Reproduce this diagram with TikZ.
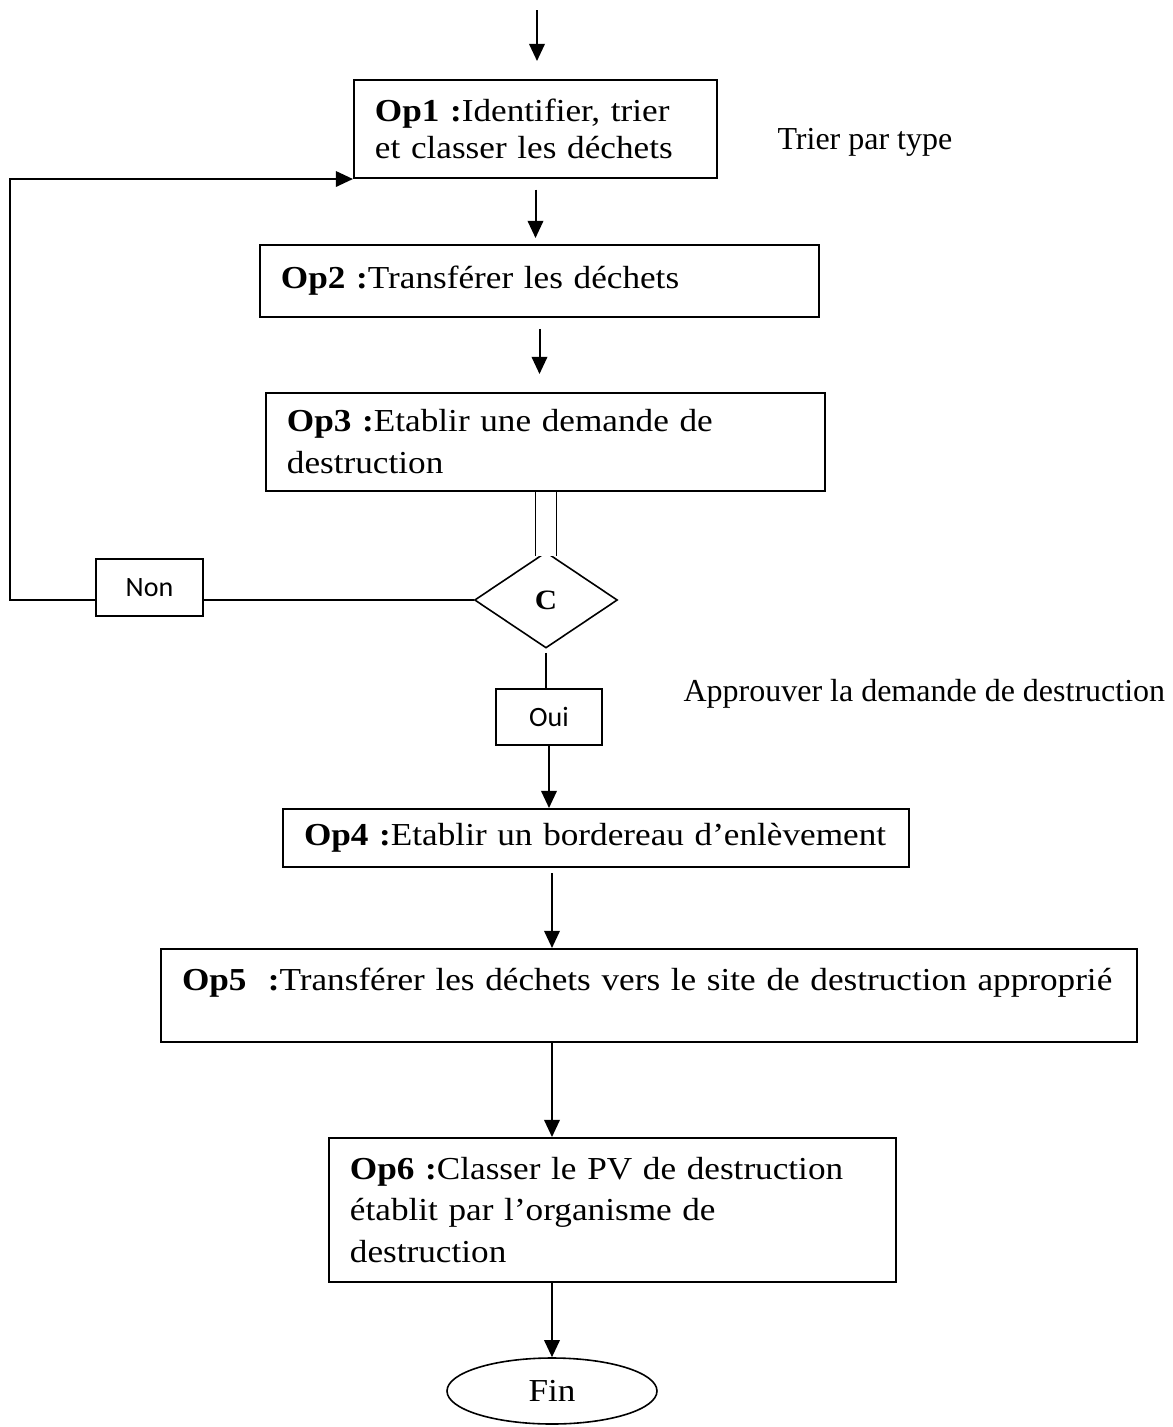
\documentclass[tikz,border=0pt]{standalone}
\usepackage{fontspec}
\setmainfont{Liberation Serif}
\newfontfamily\boxfont[FakeStretch=1.1]{Liberation Serif}
\newfontfamily\yesnofont{Carlito}
\usetikzlibrary{arrows.meta, shapes.geometric}

\begin{document}
\begin{tikzpicture}[x=0.375pt, y=-0.375pt,
        opbox/.style={draw, line width=0.75pt, align=left, inner xsep=7.875pt, inner ysep=2pt, font=\boxfont\fontsize{12}{15.5}\selectfont},
        answer/.style={draw, line width=0.6pt, inner sep=0pt, font=\yesnofont\fontsize{10.5}{12}\selectfont},
        note/.style={inner sep=0pt, font=\fontsize{12}{14}\selectfont},
        arr/.style={-{Triangle[length=6.4pt,width=5.8pt]}, line width=0.75pt}]
        \useasboundingbox (0,0) rectangle (1173,1427);

        \node[opbox, minimum width=136.1pt, minimum height=36.75pt, text width=120.4pt, font=\boxfont\fontsize{12}{13.8}\selectfont] (op1) at (535.5,129) {\textbf{Op1 :}Identifier, trier\\et classer les déchets};
        \node[opbox, minimum width=209.6pt, minimum height=27pt, text width=193.9pt] (op2) at (539.5,281) {\textbf{Op2 :}Transférer les déchets};
        \node[opbox, minimum width=209.6pt, minimum height=36.75pt, text width=193.9pt, font=\boxfont\fontsize{12}{15.75}\selectfont] (op3) at (545.5,442) {\textbf{Op3 :}Etablir une demande de\\destruction};
        \node[diamond, draw, line width=0.6pt, inner sep=0pt, minimum width=53.6pt, minimum height=36pt, font=\boxfont\bfseries\fontsize{10.5}{10.5}\selectfont] (c) at (546,600) {C};
        \node[answer, minimum width=40.1pt, minimum height=21.4pt] (non) at (149.5,587.5) {Non};
        \node[answer, minimum width=39.75pt, minimum height=21pt] (oui) at (549,717) {Oui};
        \node[opbox, minimum width=234.75pt, minimum height=21.75pt, text width=219pt] (op4) at (596,838) {\textbf{Op4 :}Etablir un bordereau d’enlèvement};
        \node[opbox, minimum width=366pt, minimum height=34.9pt, text width=350.25pt, text depth=12.4pt] (op5) at (649,995.5) {\textbf{Op5\ \ :}Transférer les déchets vers le site de destruction approprié};
        \node[opbox, minimum width=212.6pt, minimum height=54pt, text width=196.9pt] (op6) at (612.5,1210) {\textbf{Op6 :}Classer le PV de destruction\\établit par l’organisme de\\destruction};
        \node[ellipse, draw, line width=0.6pt, minimum width=78.75pt, minimum height=24.75pt, font=\boxfont\fontsize{12}{14}\selectfont] (fin) at (552,1391) {Fin};

        \node[note, anchor=base west] (sort) at (777,149) {Trier par type};
        \node[note, anchor=base west] (approve) at (683,701) {Approuver la demande de destruction};

        \coordinate (top) at (537,10);
        \coordinate (lp) at (10,600);

        \draw[arr, shorten >=6.75pt] (top) -- (top |- op1.north);
        \draw[arr, shorten <=4pt, shorten >=2.25pt] (op1.south) -- (op1.south |- op2.north);
        \draw[arr, shorten <=4.1pt, shorten >=6.75pt] (op2.south) -- (op2.south |- op3.north);
        \draw[line width=0.6pt, double, double distance=7.3pt, shorten >=-1.9pt] (op3.south -| c.north) -- (c.north);
        \draw[line width=0.6pt] (c.west) -- (c.west -| non.east);
        \draw[arr] (c.west -| non.west) -- (lp) |- (op1.south west);
        \draw[line width=0.6pt, shorten <=1.5pt] (c.south) -- (c.south |- oui.north);
        \draw[arr] (oui.south) -- (oui.south |- op4.north);
        \draw[arr, shorten <=1.9pt] (op4.south -| fin) -- (fin |- op5.north);
        \draw[arr] (op5.south -| fin) -- (fin |- op6.north);
        \draw[arr] (op6.south -| fin) -- (fin.north);
    \end{tikzpicture}
\end{document}
